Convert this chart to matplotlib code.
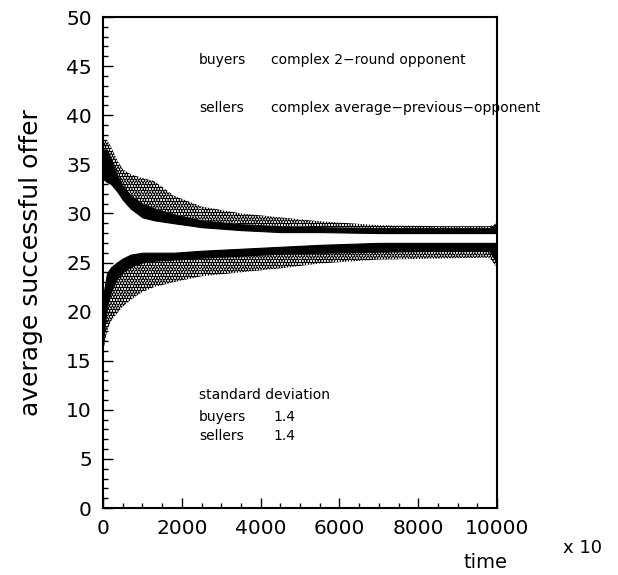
import matplotlib
matplotlib.use('Agg')
import matplotlib.pyplot as plt
from matplotlib.ticker import MultipleLocator

t_pts = [0, 100, 200, 350, 500, 700, 1000, 1300, 1800, 2500, 3500, 4500,
         5500, 7000, 8500, 9800, 10000]

# upper band: dense core bottom/top, sparse spray top
up_core_lo = [33.5, 33.2, 33.0, 32.3, 31.4, 30.5, 29.6, 29.3, 29.0, 28.6, 28.3,
              28.1, 28.1, 28.0, 28.0, 28.0, 28.0]
up_core_hi = [36.5, 36.5, 35.5, 34.0, 32.8, 31.8, 31.0, 30.5, 29.9, 29.3, 28.9,
              28.7, 28.6, 28.5, 28.5, 28.5, 29.0]
up_spray_hi = [37.5, 37.5, 36.8, 35.5, 34.5, 34.0, 33.6, 33.3, 31.8, 30.7, 30.0,
               29.6, 29.2, 28.8, 28.7, 28.7, 29.0]

# lower band: dense core top/bottom, sparse spray bottom
lo_core_hi = [21.5, 23.9, 24.5, 25.0, 25.4, 25.8, 26.0, 26.0, 26.0, 26.2, 26.4,
              26.6, 26.8, 27.0, 27.0, 27.0, 27.0]
lo_core_lo = [17.0, 20.5, 22.0, 23.3, 24.0, 24.6, 25.0, 25.2, 25.3, 25.5, 25.7,
              25.9, 26.0, 26.1, 26.2, 26.2, 25.0]
lo_spray_lo = [15.8, 18.0, 19.0, 19.8, 20.5, 21.2, 22.0, 22.5, 23.0, 23.6, 24.0,
               24.4, 24.9, 25.3, 25.4, 25.5, 24.5]

fig = plt.figure(figsize=(6.18, 5.75), dpi=100)
ax = fig.add_axes([0.1667, 0.1165, 0.6375, 0.8539])

plt.rcParams['hatch.linewidth'] = 2.2

# sparse spray drawn as dotted hatch, dense core solid
ax.fill_between(t_pts, up_core_hi, up_spray_hi, facecolor='none', edgecolor='black',
                hatch='......', linewidth=0)
ax.fill_between(t_pts, lo_spray_lo, lo_core_lo, facecolor='none', edgecolor='black',
                hatch='......', linewidth=0)
ax.fill_between(t_pts, up_core_lo, up_core_hi, color='black', linewidth=0.8)
ax.fill_between(t_pts, lo_core_lo, lo_core_hi, color='black', linewidth=0.8)

ax.set_xlim(0, 10000)
ax.set_ylim(0, 50)
ax.xaxis.set_major_locator(MultipleLocator(2000))
ax.xaxis.set_minor_locator(MultipleLocator(500))
ax.yaxis.set_major_locator(MultipleLocator(5))
ax.yaxis.set_minor_locator(MultipleLocator(1))
ax.tick_params(which='both', direction='in', labelsize=14.5, width=1)
ax.tick_params(which='major', length=7, pad=8)
ax.tick_params(which='minor', length=3.5)
for s in ax.spines.values():
    s.set_linewidth(1.5)

ax.set_ylabel('average successful offer', fontsize=18, labelpad=17)
fig.text(0.785, 0.012, 'time', fontsize=14, ha='center')
fig.text(0.942, 0.038, 'x 10', fontsize=13, ha='center')

fs = 10
ax.text(2440, 45.6, 'buyers', fontsize=fs, va='center')
ax.text(4275, 45.6, 'complex 2\u2212round opponent', fontsize=fs, va='center')
ax.text(2440, 40.7, 'sellers', fontsize=fs, va='center')
ax.text(4275, 40.7, 'complex average\u2212previous\u2212opponent', fontsize=fs, va='center')
ax.text(2440, 11.5, 'standard deviation', fontsize=fs, va='center')
ax.text(2440, 9.3, 'buyers', fontsize=fs, va='center')
ax.text(4330, 9.3, '1.4', fontsize=fs, va='center')
ax.text(2440, 7.3, 'sellers', fontsize=fs, va='center')
ax.text(4330, 7.3, '1.4', fontsize=fs, va='center')

fig.savefig('out.png', dpi=100)
